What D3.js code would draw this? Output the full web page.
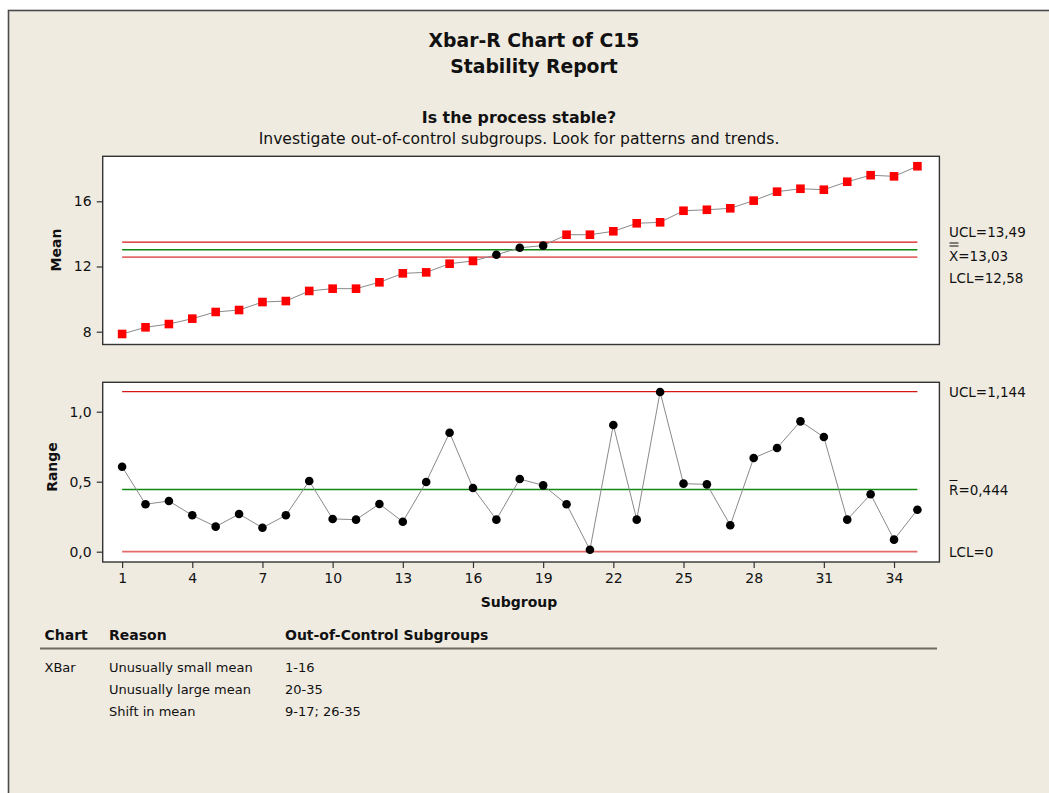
<!DOCTYPE html>
<html>
<head>
<meta charset="utf-8">
<script src="https://cdn.jsdelivr.net/npm/d3@7"></script>
<style>
  html, body { margin: 0; padding: 0; background: #ffffff; }
  svg { display: block; }
  text { font-family: "DejaVu Sans", Verdana, sans-serif; fill: #111; }
</style>
</head>
<body>
<script>
// ---------------- data ----------------
const subgroups = [1,2,3,4,5,6,7,8,9,10,11,12,13,14,15,16,17,18,19,20,21,22,23,24,25,26,27,28,29,30,31,32,33,34,35];
const means = [7.86,8.27,8.47,8.80,9.21,9.33,9.82,9.88,10.50,10.64,10.64,11.03,11.58,11.64,12.17,12.34,12.72,13.15,13.28,13.95,13.95,14.16,14.65,14.71,15.42,15.48,15.57,16.04,16.59,16.77,16.71,17.20,17.60,17.53,18.15];
const ranges = [0.607,0.339,0.362,0.260,0.179,0.269,0.171,0.260,0.505,0.234,0.229,0.341,0.214,0.498,0.850,0.455,0.229,0.519,0.474,0.339,0.014,0.905,0.229,1.141,0.486,0.481,0.189,0.669,0.741,0.931,0.819,0.229,0.410,0.086,0.300];
const meanLimits = {ucl: 13.49, cl: 13.03, lcl: 12.58};
const rangeLimits = {ucl: 1.144, cl: 0.444, lcl: 0};
const meanLimitLabels = ["UCL=13,49", "X=13,03", "LCL=12,58"];
const rangeLimitLabels = ["UCL=1,144", "R=0,444", "LCL=0"];
const xTicks = [1,4,7,10,13,16,19,22,25,28,31,34];
const meanTicks = [8,12,16];
const rangeTicks = [0,0.5,1.0];
const titleLines = ["Xbar-R Chart of C15", "Stability Report"];
const question = "Is the process stable?";
const subtitle = "Investigate out-of-control subgroups. Look for patterns and trends.";
const tableHeader = ["Chart", "Reason", "Out-of-Control Subgroups"];
const tableRows = [
  ["XBar", "Unusually small mean", "1-16"],
  ["", "Unusually large mean", "20-35"],
  ["", "Shift in mean", "9-17; 26-35"]
];

// ---------------- layout ----------------
const W = 1049, H = 793;
const plotL = 102.7, plotR = 939.4;
const topT = 156.3, topB = 344.5;
const botT = 382.3, botB = 562;

const svg = d3.select("body").append("svg").attr("width", W).attr("height", H);
svg.append("rect").attr("width", W).attr("height", H).attr("fill", "#ffffff");
svg.append("rect").attr("x", 8.5).attr("y", 10.5).attr("width", 1200).attr("height", 1000)
  .attr("fill", "#EFEBE1").attr("stroke", "#4a4a4a").attr("stroke-width", 1.6);

const x = d3.scaleLinear().domain([0.17, 35.94]).range([plotL, plotR]);
const yM = d3.scaleLinear().domain([7.215, 18.76]).range([topB, topT]);
const yR = d3.scaleLinear().domain([-0.0736, 1.21]).range([botB, botT]);

// titles
svg.append("text").attr("x", 534).attr("y", 40).attr("text-anchor", "middle").attr("dominant-baseline", "central")
  .style("font-weight", "bold").style("font-size", "18.8px").text(titleLines[0]);
svg.append("text").attr("x", 534).attr("y", 66).attr("text-anchor", "middle").attr("dominant-baseline", "central")
  .style("font-weight", "bold").style("font-size", "18.8px").text(titleLines[1]);
svg.append("text").attr("x", 519).attr("y", 117).attr("text-anchor", "middle").attr("dominant-baseline", "central")
  .style("font-weight", "bold").style("font-size", "15.8px").text(question);
svg.append("text").attr("x", 519).attr("y", 138.5).attr("text-anchor", "middle").attr("dominant-baseline", "central")
  .style("font-size", "15.6px").text(subtitle);

function panel(yScale, top, bottom, values, limits, ticks, fmt, isMean) {
  const g = svg.append("g");
  g.append("rect").attr("x", plotL).attr("y", top).attr("width", plotR - plotL).attr("height", bottom - top)
    .attr("fill", "#ffffff").attr("stroke", "#333").attr("stroke-width", 1.4);

  const ax = g.append("g").attr("transform", `translate(${plotL},0)`)
    .call(d3.axisLeft(yScale).tickValues(ticks).tickSize(6).tickPadding(5).tickFormat(fmt));
  ax.select(".domain").remove();
  ax.selectAll(".tick line").attr("stroke", "#333").attr("stroke-width", 1.2);
  ax.selectAll(".tick text").style("font-size", "14px").style("font-family", "DejaVu Sans, sans-serif").attr("fill", "#111");

  const x0 = x(subgroups[0]), x1 = x(subgroups[subgroups.length - 1]);
  g.append("line").attr("x1", x0).attr("x2", x1).attr("y1", yScale(limits.ucl)).attr("y2", yScale(limits.ucl))
    .attr("stroke", "#d81515").attr("stroke-width", 1.2);
  g.append("line").attr("x1", x0).attr("x2", x1).attr("y1", yScale(limits.cl)).attr("y2", yScale(limits.cl))
    .attr("stroke", "#118811").attr("stroke-width", 1.4);
  g.append("line").attr("x1", x0).attr("x2", x1).attr("y1", yScale(limits.lcl)).attr("y2", yScale(limits.lcl))
    .attr("stroke", "#e46a6a").attr("stroke-width", 1.8);

  const line = d3.line().x((d, i) => x(subgroups[i])).y(d => yScale(d));
  g.append("path").datum(values).attr("d", line).attr("fill", "none").attr("stroke", "#8a8a8a").attr("stroke-width", 1);

  values.forEach((v, i) => {
    const out = isMean && (v > limits.ucl || v < limits.lcl);
    if (out) {
      const s = 8.6;
      g.append("rect").attr("x", x(subgroups[i]) - s / 2).attr("y", yScale(v) - s / 2)
        .attr("width", s).attr("height", s).attr("fill", "#ff0000");
    } else {
      g.append("circle").attr("cx", x(subgroups[i])).attr("cy", yScale(v)).attr("r", 4.3).attr("fill", "#000");
    }
  });
  return g;
}

panel(yM, topT, topB, means, meanLimits, meanTicks, d => String(d), true);
panel(yR, botT, botB, ranges, rangeLimits, rangeTicks, d => d3.format(".1f")(d).replace(".", ","), false);

// x axis on bottom panel
const xa = svg.append("g").attr("transform", `translate(0,${botB})`)
  .call(d3.axisBottom(x).tickValues(xTicks).tickSize(6).tickPadding(5).tickFormat(d3.format("d")));
xa.select(".domain").remove();
xa.selectAll(".tick line").attr("stroke", "#333").attr("stroke-width", 1.2);
xa.selectAll(".tick text").style("font-size", "14px").style("font-family", "DejaVu Sans, sans-serif").attr("fill", "#111");

// axis titles
svg.append("text").attr("transform", "translate(56,250) rotate(-90)").attr("text-anchor", "middle")
  .attr("dominant-baseline", "central").style("font-weight", "bold").style("font-size", "14px").text("Mean");
svg.append("text").attr("transform", "translate(52,467) rotate(-90)").attr("text-anchor", "middle")
  .attr("dominant-baseline", "central").style("font-weight", "bold").style("font-size", "14px").text("Range");
svg.append("text").attr("x", 519).attr("y", 602).attr("text-anchor", "middle").attr("dominant-baseline", "central")
  .style("font-weight", "bold").style("font-size", "14px").text("Subgroup");

// right-side limit labels
const lx = 949;
const meanLabelY = [232, 256, 278];
meanLimitLabels.forEach((t, i) => {
  svg.append("text").attr("x", lx).attr("y", meanLabelY[i]).attr("dominant-baseline", "central")
    .style("font-size", "13.5px").text(t);
});
svg.append("line").attr("x1", lx + 0.5).attr("x2", lx + 9.5).attr("y1", 243).attr("y2", 243).attr("stroke", "#111").attr("stroke-width", 1);
svg.append("line").attr("x1", lx + 0.5).attr("x2", lx + 9.5).attr("y1", 246).attr("y2", 246).attr("stroke", "#111").attr("stroke-width", 1);

const rangeLabelY = [392, 490, 551.7];
rangeLimitLabels.forEach((t, i) => {
  svg.append("text").attr("x", lx).attr("y", rangeLabelY[i]).attr("dominant-baseline", "central")
    .style("font-size", "13.5px").text(t);
});
svg.append("line").attr("x1", lx + 0.5).attr("x2", lx + 8.5).attr("y1", 480.5).attr("y2", 480.5).attr("stroke", "#111").attr("stroke-width", 1);

// table
const colX = [44.5, 109, 285];
tableHeader.forEach((t, i) => {
  svg.append("text").attr("x", colX[i]).attr("y", 635).attr("dominant-baseline", "central")
    .style("font-weight", "bold").style("font-size", "14px").text(t);
});
svg.append("line").attr("x1", 40).attr("x2", 937).attr("y1", 648.5).attr("y2", 648.5)
  .attr("stroke", "#6f6b63").attr("stroke-width", 2.2);
const rowY = [667, 689, 711];
tableRows.forEach((r, ri) => {
  r.forEach((t, ci) => {
    if (!t) return;
    svg.append("text").attr("x", colX[ci]).attr("y", rowY[ri]).attr("dominant-baseline", "central")
      .style("font-size", "13px").text(t);
  });
});
</script>
</body>
</html>
